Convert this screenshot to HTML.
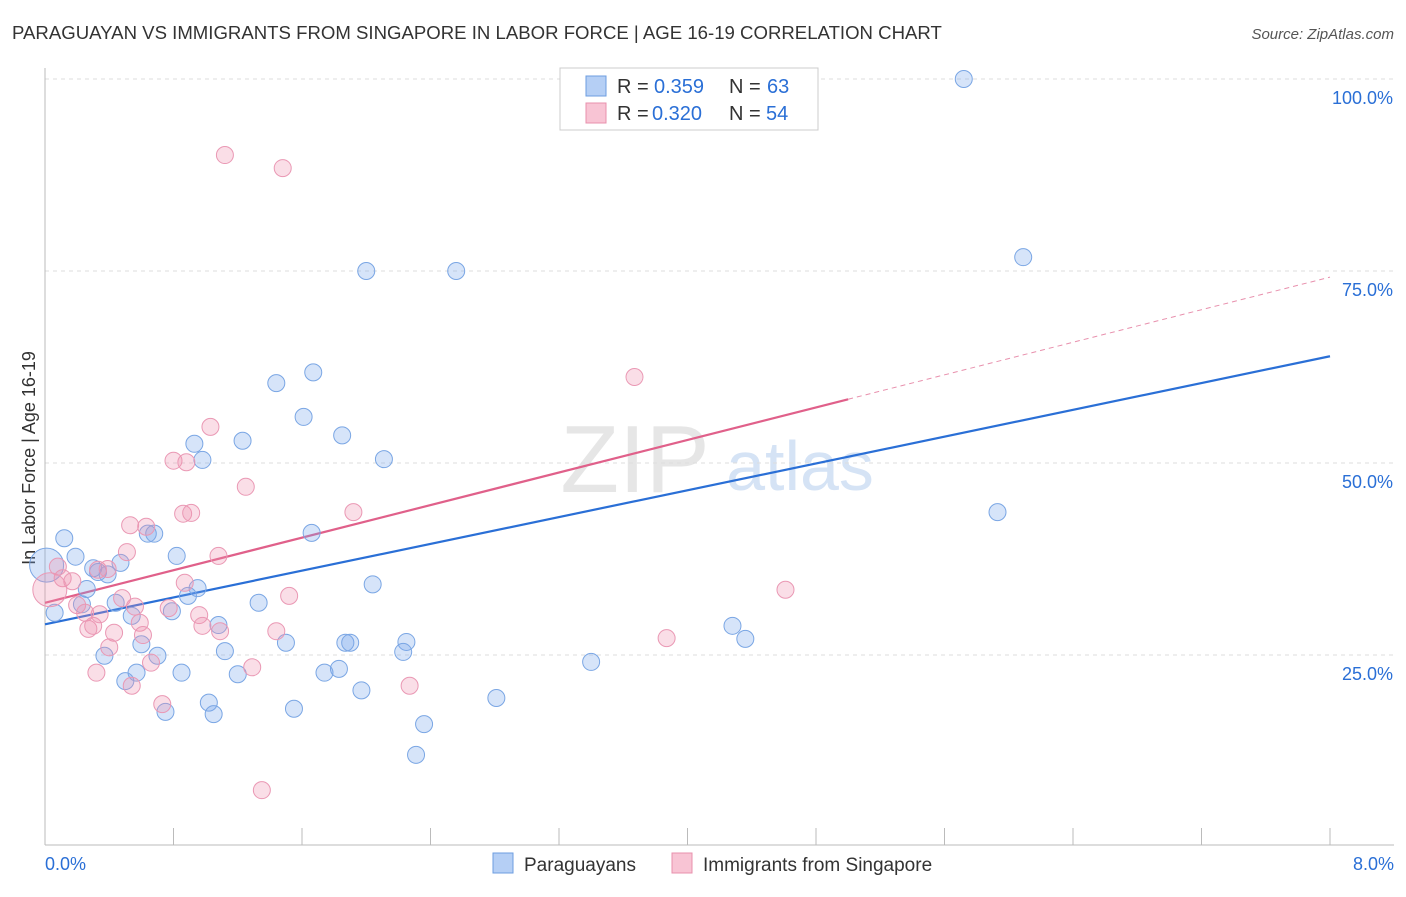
<!DOCTYPE html>
<html><head><meta charset="utf-8"><style>
body{margin:0;background:#fff;font-family:"Liberation Sans",sans-serif;}
svg text{font-family:"Liberation Sans",sans-serif;}
</style></head><body>
<svg id="chart" width="1406" height="892" xmlns="http://www.w3.org/2000/svg">
<text x="12" y="39" font-size="18.6" fill="#333">PARAGUAYAN VS IMMIGRANTS FROM SINGAPORE IN LABOR FORCE | AGE 16-19 CORRELATION CHART</text>
<text x="1394" y="39" font-size="15" fill="#555" font-style="italic" text-anchor="end">Source: ZipAtlas.com</text>
<text x="635" y="492" font-size="96" fill="#e6e6e6" font-family="Liberation Serif" text-anchor="middle">ZIP</text>
<text x="800" y="490" font-size="70" fill="#d5e3f5" text-anchor="middle">atlas</text>
<text transform="translate(35,458) rotate(-90)" font-size="18" fill="#333" text-anchor="middle">In Labor Force | Age 16-19</text>
<g id="grid"></g><g id="lines"></g><g id="pts"></g>
<g>
<rect x="560" y="68" width="258" height="62" fill="#fff" stroke="#ccc"/>
<rect x="586" y="76" width="20" height="20" fill="#b5cff5" stroke="#6d9ee0"/>
<rect x="586" y="103" width="20" height="20" fill="#f8c4d4" stroke="#e890ad"/>
<text x="617" y="93" font-size="20" fill="#333">R =</text>
<text x="654" y="93" font-size="20" fill="#2a6fd6">0.359</text>
<text x="729" y="93" font-size="20" fill="#333">N =</text>
<text x="767" y="93" font-size="20" fill="#2a6fd6">63</text>
<text x="617" y="120" font-size="20" fill="#333">R =</text>
<text x="652" y="120" font-size="20" fill="#2a6fd6">0.320</text>
<text x="729" y="120" font-size="20" fill="#333">N =</text>
<text x="766" y="120" font-size="20" fill="#2a6fd6">54</text>
</g>
<g>
<rect x="493" y="853" width="20" height="20" fill="#b5cff5" stroke="#6d9ee0"/>
<text x="524" y="871" font-size="19" fill="#333">Paraguayans</text>
<rect x="672" y="853" width="20" height="20" fill="#f8c4d4" stroke="#e890ad"/>
<text x="703" y="871" font-size="19" fill="#333">Immigrants from Singapore</text>
</g>
</svg>
<script>
const xTicks=[0,0.8,1.6,2.4,3.2,4.0,4.8,5.6,6.4,7.2,8.0];
const yTicks=[25,50,75,100];
const yTickLabels=["25.0%","50.0%","75.0%","100.0%"];
const xTickLabels=["0.0%","8.0%"];
const blueX=[5.72,6.09,2.00,2.56,1.44,1.67,1.61,1.85,1.23,0.93,0.98,2.11,5.93,1.66,0.64,0.68,0.12,0.19,0.82,0.47,0.30,0.39,0.33,0.26,2.04,0.95,0.89,1.33,0.44,0.23,0.79,0.54,0.06,0.01,1.08,4.28,4.36,1.50,1.87,1.90,2.25,2.23,0.60,1.12,0.37,0.70,3.40,1.83,1.74,0.85,1.20,0.57,0.50,1.97,2.81,1.02,1.55,0.75,1.05,2.36,2.31];
const blueY=[100,76.8,75,75,60.4,61.8,56,53.6,52.9,52.5,50.4,50.5,43.6,40.9,40.8,40.8,40.2,37.8,37.9,37,36.3,35.5,35.8,33.6,34.2,33.7,32.7,31.8,31.8,31.6,30.7,30.1,30.5,36.7,28.9,28.8,27.1,26.6,26.6,26.6,26.7,25.4,26.4,25.5,24.9,24.9,24.1,23.2,22.7,22.7,22.5,22.7,21.6,20.4,19.4,18.8,18,17.6,17.3,16,12];
const pinkX=[3.64,1.12,1.48,3.67,1.03,0.80,0.88,1.25,1.92,0.86,0.91,0.53,0.63,0.51,1.08,0.08,0.33,0.39,0.11,0.17,0.87,4.61,0.03,1.52,0.48,0.20,0.56,0.77,0.34,0.96,0.25,0.59,0.98,0.27,0.30,1.09,0.43,1.44,0.61,3.87,0.40,0.66,1.29,0.32,2.27,0.54,0.73,1.35];
const pinkY=[100,90.1,88.4,61.2,54.7,50.3,50.1,46.9,43.6,43.4,43.5,41.9,41.7,38.4,37.9,36.5,36.1,36.2,35,34.6,34.4,33.5,33.5,32.7,32.4,31.5,31.3,31.1,30.3,30.2,30.5,29.2,28.8,28.4,28.8,28.1,27.9,28.1,27.6,27.2,26,24,23.4,22.7,21,21,18.6,7.4];
const blueTrend=[29.0,63.9];
const pinkTrend=[31.8,74.2];
const pinkSolidEnd=5.0;
const NS="http://www.w3.org/2000/svg";
const X=v=>45+v*(1285/8), Y=v=>847-v*7.68;
function mk(tag,attrs,parent){const e=document.createElementNS(NS,tag);for(const k in attrs)e.setAttribute(k,attrs[k]);parent.appendChild(e);return e;}
const grid=document.getElementById('grid');
yTicks.forEach((t,i)=>{
 const l=mk('line',{x1:45,x2:1394,y1:Y(t),y2:Y(t),stroke:'#ddd','stroke-dasharray':'4,4'},grid);
 
 
 const tx=mk('text',{x:1393,y:Y(t)+25,'font-size':18,fill:'#2a6fd6','text-anchor':'end'},grid);
 tx.textContent=yTickLabels[i];
 
 
});
const ax=mk('line',{x1:45,x2:1394,y1:845,y2:845,stroke:'#bbb'},grid);


const ay=mk('line',{x1:45,x2:45,y1:68,y2:845,stroke:'#bbb'},grid);


xTicks.forEach(t=>{
 const l=mk('line',{x1:X(t),x2:X(t),y1:828,y2:845,stroke:'#bbb'},grid);
 
 
});
[[0,'start',45],[8,'end',1394]].forEach((d,i)=>{
 const tx=mk('text',{x:d[2],y:870,'font-size':18,fill:'#2a6fd6','text-anchor':d[1]},grid);
 tx.textContent=xTickLabels[i];
 
 
});
const pts=document.getElementById('pts');
function draw(xs,ys,fill,stroke,name){
 xs.forEach((x,i)=>{
  const big=(x<0.05);
  const c=mk('circle',{cx:X(x),cy:Y(ys[i]),r:big?17:8.5,fill:fill,stroke:stroke,'stroke-width':1},pts);
  
  
 });
}
draw(blueX,blueY,'rgba(120,165,235,0.3)','#7aa6e4','paraguayan-point');
draw(pinkX,pinkY,'rgba(240,145,175,0.3)','#ea98b4','singapore-point');
const lines=document.getElementById('lines');
const bl=mk('line',{x1:X(0),y1:Y(blueTrend[0]),x2:X(8),y2:Y(blueTrend[1]),stroke:'#2a6fd6','stroke-width':2.2},lines);


const pv=x=>pinkTrend[0]+(pinkTrend[1]-pinkTrend[0])*x/8;
const pl=mk('line',{x1:X(0),y1:Y(pv(0)),x2:X(pinkSolidEnd),y2:Y(pv(pinkSolidEnd)),stroke:'#e0608a','stroke-width':2.2},lines);


const pd=mk('line',{x1:X(pinkSolidEnd),y1:Y(pv(pinkSolidEnd)),x2:X(8),y2:Y(pv(8)),stroke:'#e890ad','stroke-width':1,'stroke-dasharray':'5,4'},lines);


</script>
</body></html>
